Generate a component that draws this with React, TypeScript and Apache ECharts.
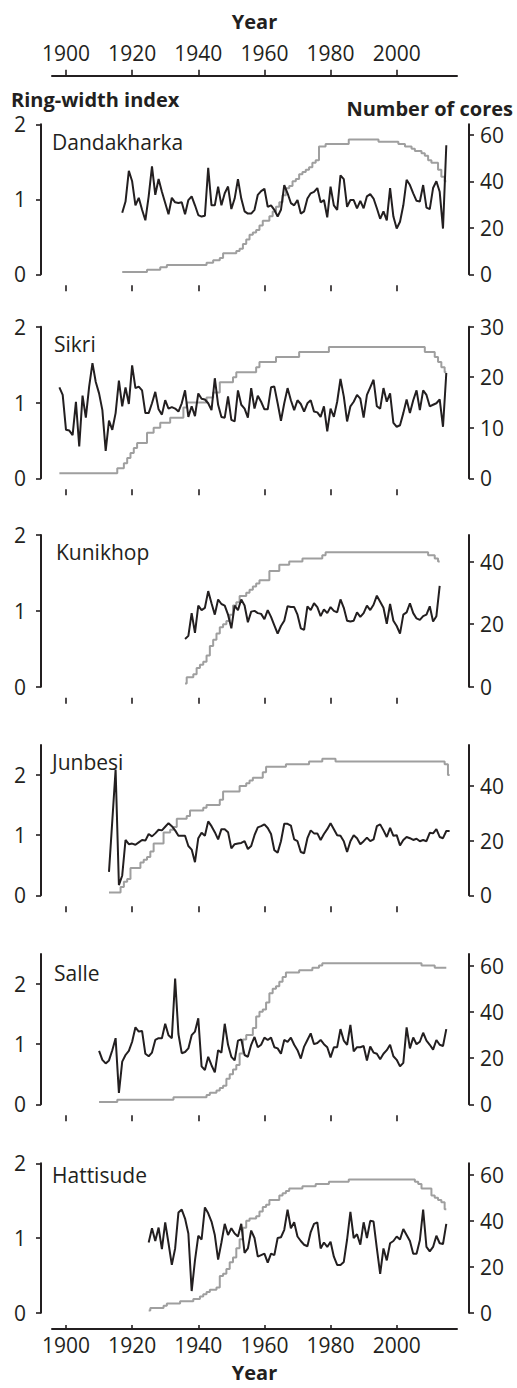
import React, { useEffect, useRef } from "react";
import * as echarts from "echarts";

// ---------- DATA ----------
const tickYears = [1900, 1920, 1940, 1960, 1980, 2000];

const dandakharkaStart = 1917;
const dandakharkaRwi = [
  0.82, 0.97, 1.38, 1.24, 0.92, 1.02, 0.86, 0.72, 1.04, 1.44,
  1.06, 1.27, 1.1, 0.95, 0.8, 1.02, 0.96, 0.95, 0.96, 0.8,
  0.99, 1.04, 0.92, 0.79, 0.77, 0.78, 1.42, 0.92, 0.92, 1.17,
  0.92, 1.08, 1.17, 0.87, 1.01, 1.27, 1.01, 0.84, 0.81, 0.81,
  0.86, 1.06, 1.11, 1.14, 0.9, 0.92, 0.86, 0.77, 0.86, 1.19,
  1.08, 0.95, 0.92, 0.99, 0.81, 0.84, 1.01, 1.08, 1.1, 1.15,
  0.96, 0.99, 0.76, 1.17, 0.92, 0.86, 1.32, 1.27, 0.9, 0.99,
  0.99, 0.88, 0.98, 0.88, 1.04, 1.07, 1.01, 0.88, 0.74, 0.84,
  0.72, 1.15, 0.77, 0.61, 0.7, 0.92, 1.26, 1.19, 1.08, 0.98,
  0.97, 1.19, 0.89, 0.87, 1.15, 1.24, 1.1, 0.61, 1.72,
];
const dandakharkaCores = [
  1, 1, 1, 1, 1, 1, 1, 1, 2, 2, 2, 2, 3, 3, 4, 4, 4, 4, 4, 4, 4, 4, 4, 4, 4, 4,
  5, 5, 6, 6, 7, 9, 9, 9, 9, 10,
  11, 13, 15, 17, 18, 19, 21, 23, 23, 25,
  27, 29, 31, 34, 37, 38, 40, 41, 43, 44,
  45, 46, 48, 49, 55, 55, 56, 56, 56, 56,
  56, 56, 56, 58, 58, 58, 58, 58, 58, 58,
  58, 58, 57, 57, 57, 57, 57, 57, 56, 56,
  55, 55, 54, 53, 53, 52, 51, 49, 48, 48,
  45, 42, 40,
];

const sikriStart = 1898;
const sikriRwi = [
  1.2, 1.1, 0.64, 0.63, 0.57, 1.01, 0.42, 1.09, 0.8, 1.21,
  1.52, 1.27, 1.12, 0.9, 0.36, 0.76, 0.64, 0.86, 1.29, 0.95,
  1.2, 0.98, 1.49, 1.19, 1.21, 1.16, 0.86, 0.86, 0.99, 1.14,
  0.91, 0.84, 1.03, 0.92, 0.94, 0.92, 0.88, 0.99, 1.16, 0.81,
  0.95, 0.82, 1.12, 1.05, 1.04, 0.99, 0.9, 1.32, 0.97, 0.81,
  0.8, 1.08, 0.77, 0.75, 1.16, 0.97, 0.92, 0.8, 1.19, 0.92,
  1.09, 1.01, 0.91, 0.91, 1.2, 1.21, 0.99, 0.76, 0.99, 1.19,
  1.03, 0.9, 1.03, 0.98, 0.88, 0.99, 1.03, 0.88, 0.87, 0.81,
  0.95, 0.62, 0.92, 0.81, 1.01, 1.31, 1.08, 0.75, 0.95, 1.01,
  1.1, 1.05, 0.8, 1.1, 1.2, 1.3, 0.95, 0.92, 1.19, 1.01,
  1.12, 0.73, 0.68, 0.7, 0.86, 1.04, 0.86, 1.03, 1.16, 0.9,
  1.16, 1.1, 0.95, 0.97, 0.99, 1.04, 0.68, 1.39,
];
const sikriCores = [
  1, 1, 1, 1, 1, 1, 1, 1, 1, 1, 1, 1, 1, 1, 1, 1, 1, 1,
  2, 2, 3, 4, 5, 6, 7, 7, 7, 9,
  9, 10, 10, 11, 11, 11, 12, 12, 12, 12,
  14, 15, 15, 15, 15, 15, 15, 16, 16, 17,
  17, 19, 19, 19, 19, 20, 21, 21, 21, 21,
  21, 21, 22, 23, 23, 23, 23, 23, 24, 24,
  24, 24, 24, 24, 24, 25, 25, 25, 25, 25,
  25, 25, 25, 25, 26, 26, 26, 26, 26, 26,
  26, 26, 26, 26, 26, 26, 26, 26, 26, 26,
  26, 26, 26, 26, 26, 26, 26, 26, 26, 26,
  26, 26, 26, 25, 25, 25, 24, 23, 22, 21,
];

const kunikhopStart = 1936;
const kunikhopRwi = [
  0.63, 0.67, 0.97, 0.71, 1.07, 1.01, 1.04, 1.26, 1.1, 0.95,
  1.15, 1.09, 1.07, 0.95, 0.77, 1.07, 1.01, 1.15, 1.07, 0.85,
  0.99, 1.0, 0.97, 0.96, 0.89, 1.01, 0.92, 0.81, 0.7, 0.8,
  0.87, 1.06, 1.05, 1.05, 0.95, 0.77, 0.75, 1.06, 1.01, 1.1,
  1.05, 0.93, 1.02, 0.97, 1.05, 1.0, 0.98, 1.15, 1.04, 0.87,
  0.86, 0.87, 0.98, 0.92, 0.97, 1.07, 1.01, 1.08, 1.2, 1.12,
  1.04, 0.83, 1.09, 0.87, 0.8, 0.7, 0.95, 0.98, 1.1, 0.97,
  0.9, 0.88, 0.93, 0.95, 1.06, 0.86, 0.93, 1.33,
];
const kunikhopCores = [
  1, 3, 3, 4, 6, 7, 8, 10, 13, 15,
  17, 19, 20, 21, 23, 26, 27, 29, 29, 30,
  31, 32, 33, 34, 34, 34, 37, 37, 37, 39,
  39, 39, 40, 40, 40, 40, 41, 41, 41, 41,
  41, 41, 42, 43, 43, 43, 43, 43, 43, 43,
  43, 43, 43, 43, 43, 43, 43, 43, 43, 43,
  43, 43, 43, 43, 43, 43, 43, 43, 43, 43,
  43, 43, 43, 43, 42, 42, 41, 40,
];

const junbesiStart = 1913;
const junbesiRwi = [
  0.39, 1.24, 2.09, 0.17, 0.33, 0.92, 0.85, 0.86, 0.84, 0.88,
  0.92, 0.91, 1.02, 0.98, 1.03, 1.09, 1.08, 1.14, 1.2, 1.15,
  1.08, 0.99, 0.99, 0.99, 0.82, 0.76, 0.55, 0.95, 1.04, 0.99,
  1.23, 1.15, 1.05, 0.93, 1.1, 1.1, 1.05, 0.78, 0.85, 0.86,
  0.87, 0.9, 0.77, 0.82, 1.0, 1.13, 1.15, 1.18, 1.12, 1.02,
  0.75, 0.71, 0.9, 1.19, 1.19, 1.16, 0.93, 0.9, 0.72, 0.7,
  0.95, 1.08, 1.03, 1.03, 0.92, 1.02, 1.1, 1.2, 1.1, 1.0,
  0.99, 0.9, 0.72, 0.9, 1.0, 0.95, 0.85, 0.9, 0.96, 0.9,
  0.93, 1.15, 1.18, 1.08, 0.97, 1.12, 0.99, 1.0, 0.83, 0.92,
  0.97, 0.95, 0.92, 0.94, 0.9, 0.92, 0.9, 1.04, 1.03, 1.1,
  0.97, 0.95, 1.07, 1.07,
];
const junbesiCores = [
  1, 1, 1, 1, 3, 5, 6, 10, 10, 10,
  12, 13, 14, 16, 19, 19, 19, 23, 23, 24,
  25, 28, 28, 28, 29, 31, 31, 31, 31, 32,
  33, 33, 33, 33, 35, 38, 38, 38, 38, 38,
  40, 40, 41, 42, 43, 43, 43, 45, 47, 47,
  47, 47, 47, 47, 48, 48, 48, 48, 48, 48,
  48, 49, 49, 49, 49, 50, 50, 50, 50, 49,
  49, 49, 49, 49, 49, 49, 49, 49, 49, 49,
  49, 49, 49, 49, 49, 49, 49, 49, 49, 49,
  49, 49, 49, 49, 49, 49, 49, 49, 49, 49,
  49, 49, 48, 44,
];

const salleStart = 1910;
const salleRwi = [
  0.89, 0.74, 0.68, 0.73, 0.9, 1.1, 0.19, 0.71, 0.82, 0.89,
  1.04, 1.28, 1.21, 1.22, 0.84, 0.8, 0.86, 1.07, 1.1, 1.1,
  1.34, 1.15, 1.1, 2.09, 1.17, 0.85, 0.87, 0.93, 1.15, 1.21,
  1.43, 0.63, 0.57, 0.79, 0.65, 0.53, 0.9, 0.86, 1.34, 0.99,
  0.79, 0.73, 1.06, 1.08, 0.82, 0.79, 0.99, 1.12, 0.95, 0.99,
  1.11, 1.07, 1.11, 0.95, 0.93, 0.84, 1.07, 1.04, 1.11, 0.99,
  0.9, 0.76, 0.96, 1.07, 1.18, 1.0, 1.02, 1.07, 1.0, 0.95,
  0.78, 0.95, 0.95, 1.25, 1.06, 0.99, 1.32, 0.88, 0.95, 0.95,
  0.97, 0.73, 0.96, 0.86, 0.84, 0.75, 0.84, 0.9, 0.99, 0.8,
  0.74, 0.63, 0.69, 1.28, 0.93, 1.11, 1.0, 1.04, 1.19, 1.06,
  0.99, 0.91, 1.07, 0.99, 0.97, 1.25,
];
const salleCores = [
  1, 1, 1, 1, 1, 1,
  2, 2, 2, 2, 2, 2, 2, 2, 2, 2, 2, 2, 2, 2, 2, 2, 2,
  3, 3, 3, 3, 3, 3, 3, 3, 3, 3,
  4, 5, 5, 6, 7, 8, 11, 13, 15, 17,
  22, 28, 30, 30, 33, 38, 40, 41, 44, 48,
  50, 51, 53, 55, 57, 57, 57, 57, 58, 58,
  58, 58, 59, 59, 60, 61, 61, 61, 61, 61,
  61, 61, 61, 61, 61, 61, 61, 61, 61, 61,
  61, 61, 61, 61, 61, 61, 61, 61, 61, 61,
  61, 61, 61, 61, 61, 60, 60, 60, 60, 59,
  59, 59, 59,
];

const hattisudeStart = 1925;
const hattisudeRwi = [
  0.94, 1.13, 0.96, 1.14, 0.85, 1.21, 0.93, 0.64, 0.86, 1.34,
  1.38, 1.26, 1.06, 0.29, 0.7, 1.03, 0.98, 1.41, 1.33, 1.22,
  1.04, 0.71, 0.94, 1.19, 1.04, 1.13, 1.06, 1.02, 1.19, 0.8,
  0.86, 1.1, 1.0, 0.75, 0.77, 0.79, 0.67, 0.79, 0.77, 1.0,
  1.01, 1.11, 1.38, 1.13, 1.21, 1.02, 0.96, 0.91, 0.89, 1.08,
  1.19, 1.21, 0.86, 0.94, 0.88, 0.95, 0.75, 0.64, 0.64, 0.68,
  0.98, 1.35, 1.0, 1.05, 0.91, 1.21, 1.0, 1.23, 1.22, 0.86,
  0.52, 0.86, 0.7, 0.93, 0.96, 1.02, 0.98, 1.12, 1.04, 0.96,
  0.79, 0.79, 0.97, 1.38, 0.88, 0.82, 0.88, 1.03, 0.93, 0.92,
  1.19,
];
const hattisudeCores = [
  1, 2, 2, 2, 2, 3, 4, 4, 4, 4,
  5, 5, 5, 5, 6, 6, 7, 8, 9, 10,
  10, 11, 16, 17, 19, 22, 24, 28, 32, 37,
  40, 41, 41, 42, 44, 46, 47, 49, 49, 49,
  51, 52, 53, 54, 54, 54, 54, 55, 55, 55,
  55, 56, 56, 56, 56, 57, 57, 57, 57, 57,
  57, 58, 58, 58, 58, 58, 58, 58, 58, 58,
  58, 58, 58, 58, 58, 58, 58, 58, 58, 58,
  58, 57, 56, 54, 54, 54, 51, 50, 49, 48,
  45,
];

const siteNames = ["Dandakharka", "Sikri", "Kunikhop", "Junbesi", "Salle", "Hattisude"];
const siteStarts = [dandakharkaStart, sikriStart, kunikhopStart, junbesiStart, salleStart, hattisudeStart];
const siteRwi = [dandakharkaRwi, sikriRwi, kunikhopRwi, junbesiRwi, salleRwi, hattisudeRwi];
const siteCores = [dandakharkaCores, sikriCores, kunikhopCores, junbesiCores, salleCores, hattisudeCores];
const rwiMaxes = [2, 2, 2, 2.5, 2.5, 2];
const rwiTicks = [0, 1, 2];
const coresMaxes = [64.5, 30, 48.5, 55, 65, 65];
const coresTicks = [
  [0, 20, 40, 60],
  [0, 10, 20, 30],
  [0, 20, 40],
  [0, 20, 40],
  [0, 20, 40, 60],
  [0, 20, 40, 60],
];

// ---------- LAYOUT ----------
const W = 517;
const H = 1388;
const X1900 = 66;
const PX_PER_YEAR = 3.307;
const GRID_L = 41;
const GRID_R = 469;
const AXIS_L = 52;
const AXIS_R = 457;
const panelTops = [124.3, 326.7, 535, 745, 954, 1163.3];
const panelHeights = [150, 151.6, 151.7, 150.3, 150.3, 149.4];
const namePos = [
  [52, 142], [54, 343.5], [56, 551.5], [52, 761.5], [54, 972.5], [52, 1175],
];
const TEXT = "#231f20";
const GRAY = "#9f9f9f";
const FONT = "'Open Sans', 'DejaVu Sans', sans-serif";

const pxToYear = (px: number) => 1900 + (px - X1900) / PX_PER_YEAR;
const plain = (v: number) => String(v);

const pairs = (start: number, vals: number[]) => vals.map((v, i) => [start + i, v]);

export default function App() {
  const ref = useRef<HTMLDivElement>(null);
  useEffect(() => {
    if (!ref.current) return;
    const chart = echarts.init(ref.current, undefined, { renderer: "svg" });

    const grids: any[] = [];
    const xAxes: any[] = [];
    const yAxes: any[] = [];
    const series: any[] = [];
    const graphics: any[] = [];

    const labelStyle = { fontFamily: FONT, fontSize: 21, color: TEXT, formatter: plain };

    for (let i = 0; i < 6; i++) {
      grids.push({ left: GRID_L, width: GRID_R - GRID_L, top: panelTops[i], height: panelHeights[i] });
      xAxes.push({
        gridIndex: i,
        type: "value",
        min: pxToYear(GRID_L),
        max: pxToYear(GRID_R),
        position: "bottom",
        offset: 11,
        axisLine: { show: false, onZero: false },
        axisTick: { show: i < 5, length: 6, customValues: tickYears, lineStyle: { color: TEXT, width: 1.6 } },
        axisLabel: { show: false },
        splitLine: { show: false },
      });
      yAxes.push({
        gridIndex: i,
        type: "value",
        position: "left",
        min: 0,
        max: rwiMaxes[i],
        axisLine: { show: true, lineStyle: { color: TEXT, width: 2 } },
        axisTick: { show: true, length: 5, customValues: rwiTicks, lineStyle: { color: TEXT, width: 1.6 } },
        axisLabel: { ...labelStyle, margin: 15, customValues: rwiTicks },
        splitLine: { show: false },
      });
      yAxes.push({
        gridIndex: i,
        type: "value",
        position: "right",
        min: 0,
        max: coresMaxes[i],
        axisLine: { show: true, lineStyle: { color: TEXT, width: 2 } },
        axisTick: { show: true, length: 5, customValues: coresTicks[i], lineStyle: { color: TEXT, width: 1.6 } },
        axisLabel: { ...labelStyle, margin: 11, customValues: coresTicks[i] },
        splitLine: { show: false },
      });
      series.push({
        type: "line",
        xAxisIndex: i,
        yAxisIndex: 2 * i + 1,
        data: pairs(siteStarts[i], siteCores[i]),
        step: "middle",
        showSymbol: false,
        lineStyle: { color: GRAY, width: 2 },
        z: 2,
      });
      series.push({
        type: "line",
        xAxisIndex: i,
        yAxisIndex: 2 * i,
        data: pairs(siteStarts[i], siteRwi[i]),
        showSymbol: false,
        lineStyle: { color: TEXT, width: 2 },
        z: 3,
      });
      graphics.push({
        type: "text",
        x: namePos[i][0],
        y: namePos[i][1],
        style: { text: siteNames[i], fill: TEXT, font: `21px ${FONT}`, align: "left", verticalAlign: "middle" },
      });
    }

    // top axis
    grids.push({ left: AXIS_L, width: AXIS_R - AXIS_L, top: 75.7, height: 1 });
    xAxes.push({
      gridIndex: 6,
      type: "value",
      min: pxToYear(AXIS_L),
      max: pxToYear(AXIS_R),
      position: "top",
      axisLine: { show: true, onZero: false, lineStyle: { color: TEXT, width: 2 } },
      axisTick: { show: true, length: 6, customValues: tickYears, lineStyle: { color: TEXT, width: 1.6 } },
      axisLabel: { ...labelStyle, margin: 12, customValues: tickYears },
      splitLine: { show: false },
      name: "Year",
      nameLocation: "middle",
      nameGap: 44,
      nameTextStyle: { fontFamily: FONT, fontSize: 20, fontWeight: "bold", color: TEXT },
    });
    yAxes.push({ gridIndex: 6, type: "value", show: false, min: 0, max: 1 });

    // bottom axis
    grids.push({ left: AXIS_L, width: AXIS_R - AXIS_L, top: 1328, height: 1 });
    xAxes.push({
      gridIndex: 7,
      type: "value",
      min: pxToYear(AXIS_L),
      max: pxToYear(AXIS_R),
      position: "bottom",
      axisLine: { show: true, onZero: false, lineStyle: { color: TEXT, width: 2 } },
      axisTick: { show: true, inside: true, length: 4, customValues: tickYears, lineStyle: { color: TEXT, width: 1.6 } },
      axisLabel: { ...labelStyle, margin: 5, customValues: tickYears },
      splitLine: { show: false },
      name: "Year",
      nameLocation: "middle",
      nameGap: 33,
      nameTextStyle: { fontFamily: FONT, fontSize: 20, fontWeight: "bold", color: TEXT },
    });
    yAxes.push({ gridIndex: 7, type: "value", show: false, min: 0, max: 1 });

    graphics.push({
      type: "text",
      x: 11,
      y: 99.5,
      style: { text: "Ring-width index", fill: TEXT, font: `bold 20px ${FONT}`, align: "left", verticalAlign: "middle" },
    });
    graphics.push({
      type: "text",
      x: 513,
      y: 108,
      style: { text: "Number of cores", fill: TEXT, font: `bold 20px ${FONT}`, align: "right", verticalAlign: "middle" },
    });

    chart.setOption({
      animation: false,
      backgroundColor: "#ffffff",
      grid: grids,
      xAxis: xAxes,
      yAxis: yAxes,
      series,
      graphic: graphics,
    });
    return () => chart.dispose();
  }, []);

  return <div ref={ref} style={{ position: "absolute", left: 0, top: 0, width: W, height: H }} />;
}
